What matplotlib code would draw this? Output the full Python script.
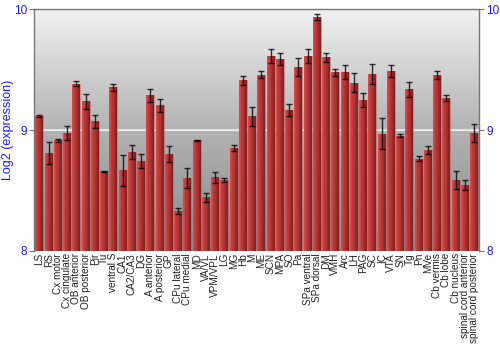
import numpy as np
import matplotlib.pyplot as plt
from matplotlib.colors import LinearSegmentedColormap

# ── Data ─────────────────────────────────────────────────────────────────────
regions = [
    "LS", "RS", "Cx motor", "Cx cingulate", "OB anterior", "OB posterior",
    "Pir", "Tu", "ventral S", "CA1", "CA2/CA3", "DG", "A anterior",
    "A posterior", "GP", "CPu lateral", "CPu medial", "MD", "VA/VL",
    "VPM/VPL", "LG", "MG", "Hb", "M", "ME", "SCN", "MPA", "SO", "Pa",
    "SPa ventral", "SPa dorsal", "DM", "VMH", "Arc", "LH", "PAG", "SC", "IC",
    "VTA", "SN", "Tg", "Pn", "MVe", "Cb vermis", "Cb lobe", "Cb nucleus",
    "spinal cord anterior", "spinal cord posterior",
]
log2_expr = [
    9.118, 8.81, 8.915, 8.975, 9.386, 9.24, 9.074, 8.661, 9.353, 8.667,
    8.82, 8.741, 9.287, 9.204, 8.805, 8.331, 8.601, 8.917, 8.444, 8.609,
    8.59, 8.851, 9.413, 9.113, 9.46, 9.614, 9.587, 9.168, 9.521, 9.614,
    9.937, 9.603, 9.479, 9.479, 9.394, 9.25, 9.466, 8.97, 9.49, 8.953,
    9.339, 8.763, 8.835, 9.457, 9.267, 8.59, 8.543, 8.978,
]
errors = [
    0.008, 0.094, 0.015, 0.06, 0.023, 0.063, 0.054, 0.005, 0.026, 0.13,
    0.059, 0.058, 0.052, 0.05, 0.066, 0.026, 0.083, 0.003, 0.039, 0.047,
    0.017, 0.026, 0.037, 0.076, 0.029, 0.058, 0.048, 0.052, 0.076, 0.055,
    0.022, 0.039, 0.028, 0.058, 0.076, 0.061, 0.081, 0.128, 0.047, 0.012,
    0.061, 0.021, 0.034, 0.036, 0.022, 0.074, 0.041, 0.076,
]
y_ticks = [8, 9, 10]

Y_MIN, Y_MAX = 8, 10
BAR_W = 0.86
BLUE = "#1a1aff"
FONT = "Liberation Sans"

fig = plt.figure(figsize=(5, 3.5), dpi=100)
ax = fig.add_axes([0.0686, 0.2829, 0.89, 0.6905])

n = len(regions)
x = np.arange(n)
ax.set_xlim(-0.55, n - 0.45)
ax.set_ylim(Y_MIN, Y_MAX)

# ── Background: vertical grey gradient ───────────────────────────────────────
bg = np.linspace(0, 1, 256).reshape(-1, 1)
bg_cmap = LinearSegmentedColormap.from_list("bg", ["#8a8a8a", "#b2b2b2", "#f2f2f2"])
ax.imshow(bg, cmap=bg_cmap, aspect="auto", origin="lower",
          extent=[-0.55, n - 0.45, Y_MIN, Y_MAX], zorder=0)
ax.axhline(9, color="white", lw=1.2, zorder=1)
ax.axhline(9.008, color="#e0e0e0", lw=0.8, zorder=1)

# ── Bars with a horizontal red gradient ──────────────────────────────────────
bar_cmap = LinearSegmentedColormap.from_list(
    "bar", ["#d45050", "#bb3a3a", "#a52c2c", "#821c1c"])
grad = np.linspace(0, 1, 64).reshape(1, -1)
bars = ax.bar(x, np.array(log2_expr) - Y_MIN, bottom=Y_MIN, width=BAR_W,
              color="none", edgecolor="#c86060", linewidth=0.4, zorder=2)
for b in bars:
    x0, w = b.get_x(), b.get_width()
    im = ax.imshow(grad, cmap=bar_cmap, aspect="auto",
                   extent=[x0, x0 + w, Y_MIN, b.get_y() + b.get_height()],
                   zorder=2)
    im.set_clip_path(b)

ax.errorbar(x, log2_expr, yerr=errors, fmt="none", ecolor="black",
            elinewidth=1.0, capsize=2, capthick=1.0, alpha=0.8, zorder=3)

# ── Axes styling ─────────────────────────────────────────────────────────────
ax.set_xticks(x)
ax.set_xticklabels(regions, rotation=90, fontsize=7.2, color="#222222",
                   family=FONT)
ax.tick_params(axis="x", length=0, pad=1.5)

ax.set_yticks(y_ticks)
ax.set_yticklabels([str(t) for t in y_ticks], family=FONT)
ax.tick_params(axis="y", colors="#777777", labelcolor=BLUE, labelsize=8.5,
               length=3.5, pad=1.5, left=True, right=True, labelleft=True,
               labelright=True)
ax.set_ylabel("Log2 (expression)", color=BLUE, fontsize=9, family=FONT,
              va="center")
ax.yaxis.set_label_coords(-0.058, 0.5)

for side in ["top", "left", "right"]:
    ax.spines[side].set_color("#777777")
    ax.spines[side].set_linewidth(1)
ax.spines["bottom"].set_visible(False)

fig.savefig("out.png", dpi=100)
